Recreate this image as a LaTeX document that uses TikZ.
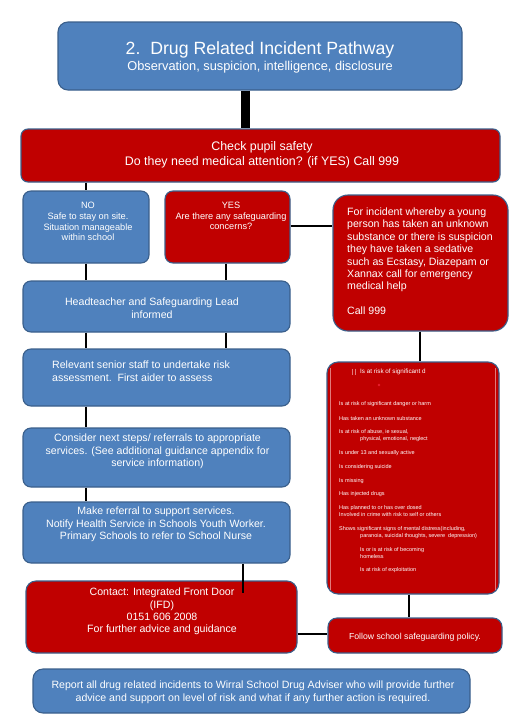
\documentclass[tikz,border=0pt]{standalone}
\usepackage{fontspec}
\setmainfont{Liberation Sans}
\definecolor{boxblue}{HTML}{4F81BD}
\definecolor{boxred}{HTML}{C00000}
\definecolor{edgeblue}{HTML}{3A5F8B}
\definecolor{pinkline}{HTML}{E27A7A}
\definecolor{dotred}{HTML}{E8202E}
\newcommand{\fsz}[2]{\fontsize{#1}{#2}\selectfont}
\tikzset{
  box/.style={draw=edgeblue, line width=1.1pt, rounded corners=8pt, inner sep=0pt},
  bluebox/.style={box, fill=boxblue},
  redbox/.style={box, fill=boxred},
  txt/.style={text=white, inner sep=0pt, align=center},
  ltxt/.style={text=white, inner sep=0pt, align=left, anchor=west},
  conn/.style={line width=2.2pt, black},
  litem/.style={text=white, inner sep=0pt, anchor=west, font=\fsz{5.5}{7}},
}
\begin{document}
\begin{tikzpicture}[x=1pt,y=-1pt]
\useasboundingbox (0,0) rectangle (512,726);
% ---------- boxes ----------
\node[bluebox, rounded corners=10pt, minimum width=404pt, minimum height=68pt] (title) at (260,56) {};
\node[redbox, rounded corners=7pt, minimum width=479pt, minimum height=53pt] (check) at (260.5,155.5) {};
\node[bluebox, minimum width=126pt, minimum height=72pt] (no) at (86,227) {};
\node[redbox, minimum width=125pt, minimum height=72pt] (yes) at (227.5,227) {};
\node[redbox, rounded corners=15pt, minimum width=175pt, minimum height=136pt] (incident) at (420.5,263) {};
\node[bluebox, minimum width=267pt, minimum height=51pt] (head) at (156.5,306.5) {};
\node[bluebox, minimum width=267pt, minimum height=57pt] (relevant) at (156.5,377.5) {};
\node[bluebox, minimum width=267pt, minimum height=59pt] (consider) at (156.5,457.5) {};
\node[bluebox, minimum width=267pt, minimum height=61pt] (referral) at (156.5,532.5) {};
\node[redbox, rounded corners=10pt, minimum width=271pt, minimum height=72pt] (contact) at (161.5,617) {};
\node[redbox, rounded corners=11pt, minimum width=172pt, minimum height=232pt] (list) at (413,478) {};
\node[redbox, rounded corners=9pt, minimum width=174pt, minimum height=35pt] (follow) at (415,635.5) {};
\node[bluebox, rounded corners=10pt, minimum width=437pt, minimum height=44pt] (report) at (251.5,691) {};
% inner light lines of the list box
\draw[pinkline, line width=0.5pt] (330,368) -- (330,590);
\draw[pinkline, line width=0.5pt] (495,368) -- (495,590);
% ---------- connectors ----------
\coordinate (tc) at (245,0);
\coordinate (rc) at (243,0);
\coordinate (ic) at (420,0);
\coordinate (lc) at (409,0);
\coordinate (yc) at (226,0);
\coordinate (cy) at (0,226);
\coordinate (fy) at (0,634);
\coordinate (rend) at (243,593);
\draw[line width=9pt, black] (title.south -| tc) -- (check.north -| tc);
\draw[conn] (check.south -| no) -- (no.north);
\draw[conn] (yes.east |- cy) -- (incident.west |- cy);
\draw[conn] (no.south) -- (head.north -| no);
\draw[conn] (yes.south -| yc) -- (head.north -| yc);
\draw[conn] (head.south -| no) -- (relevant.north -| no);
\draw[conn] (head.south -| yc) -- (relevant.north -| yc);
\draw[conn] (relevant.south -| no) -- (consider.north -| no);
\draw[conn] (consider.south -| no) -- (referral.north -| no);
\draw[conn] (referral.south -| rc) -- (rend);
\draw[conn] (incident.south -| ic) -- (list.north -| ic);
\draw[conn] (list.south -| lc) -- (follow.north -| lc);
\draw[conn] (contact.east |- fy) -- (follow.west |- fy);
% ---------- texts ----------
\node[txt, font=\fsz{17.7}{18}] (titleT) at (260,50) {2.\ \ Drug Related Incident Pathway};
\node[txt, font=\fsz{12.8}{14}] (titleS) at (260,67.5) {Observation, suspicion, intelligence, disclosure};
\node[txt, font=\fsz{12.4}{15}] (checkT) at (262,154.5) {Check pupil safety\\Do they need medical attention? (if YES) Call 999};
\node[txt, font=\fsz{9.2}{10.8}] (noT) at (88,221.5) {NO\\Safe to stay on site.\\Situation manageable\\within school};
\node[txt, font=\fsz{9.2}{10.8}] (yesT) at (231,216) {YES\\Are there any safeguarding\\concerns?};
\node[ltxt, font=\fsz{10.6}{12.4}] (incT) at (347,261.3) {For incident whereby a young\\person has taken an unknown\\substance or there is suspicion\\they have taken a sedative\\such as Ecstasy, Diazepam or\\Xannax call for emergency\\medical help\\[12.4pt]Call 999};
\node[txt, font=\fsz{10.6}{12.7}] (headT) at (152,308.5) {Headteacher and Safeguarding Lead\\informed};
\node[ltxt, font=\fsz{10.6}{12.8}] (relT) at (52,371.5) {Relevant senior staff to undertake risk\\assessment.\ \ First aider to assess};
\node[txt, font=\fsz{10.6}{12.5}] (conT) at (157.5,451.5) {Consider next steps/ referrals to appropriate\\services. (See additional guidance appendix for\\service information)};
\node[txt, font=\fsz{10.6}{12.5}] (refT) at (156,524.5) {Make referral to support services.\\Notify Health Service in Schools Youth Worker.\\Primary Schools to refer to School Nurse};
\node[txt, font=\fsz{10.6}{12.3}] (ctT) at (162,611.5) {Contact: Integrated Front Door\\(IFD)\\0151 606 2008\\For further advice and guidance};
\node[txt, font=\fsz{8.7}{10}] (folT) at (415,637) {Follow school safeguarding policy.};
\node[txt, font=\fsz{10.6}{13}] (repT) at (253,692.5) {Report all drug related incidents to Wirral School Drug Adviser who will provide further\\advice and support on level of risk and what if any further action is required.};
% list box content
\draw[pinkline, line width=0.6pt] (352,368.5) -- (352,374.5);
\draw[pinkline, line width=0.6pt] (355.5,368.5) -- (355.5,374.5);
\node[ltxt, font=\fsz{6.3}{7}] (lhead) at (360,372) {Is at risk of significant d};
\fill[dotred] (379,385) circle (1.4pt);
\node[litem] (l1) at (339,404) {Is at risk of significant danger or harm};
\node[litem] (l2) at (339,419) {Has taken an unknown substance};
\node[litem] (l3) at (339,432) {Is at risk of abuse, ie sexual,};
\node[litem] (l3b) at (360,439) {physical, emotional, neglect};
\node[litem] (l4) at (339,453) {Is under 13 and sexually active};
\node[litem] (l5) at (339,467) {Is considering suicide};
\node[litem] (l6) at (339,481) {Is missing};
\node[litem] (l7) at (339,494) {Has injected drugs};
\node[litem] (l8) at (339,508) {Has planned to or has over dosed};
\node[litem] (l8b) at (339,515) {Involved in crime with risk to self or others};
\node[litem] (l9) at (339,529) {Shows significant signs of mental distress(including,};
\node[litem] (l9b) at (360,536) {paranoia, suicidal thoughts, severe\ \ depression)};
\node[litem] (l10) at (360,550) {Is or is at risk of becoming};
\node[litem] (l10b) at (360,556.5) {homeless};
\node[litem] (l11) at (360,570) {Is at risk of exploitation};
\end{tikzpicture}
\end{document}
